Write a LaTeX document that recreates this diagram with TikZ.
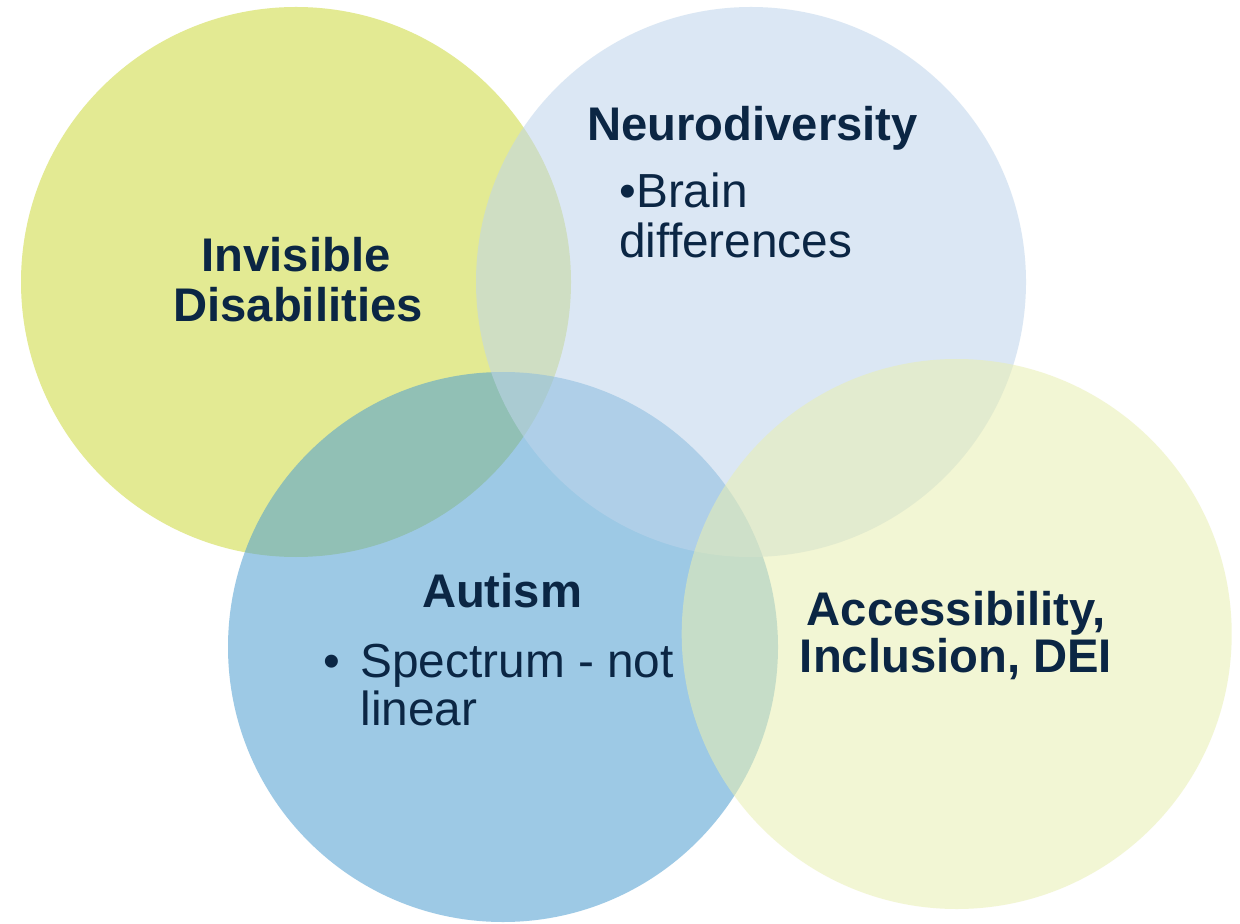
\documentclass[tikz,border=0pt]{standalone}
\usepackage{fontspec}
\setmainfont{Liberation Sans}
\definecolor{navy}{RGB}{11,38,68}
\definecolor{cyellow}{RGB}{227,234,147}
\definecolor{cneuro}{RGB}{191,213,235}
\definecolor{cautism}{RGB}{78,158,209}
\definecolor{caccess}{RGB}{233,239,177}
\tikzset{
  venn/.style={fill opacity=0.55, draw=none},
  head/.style={font=\fontsize{23.6}{25}\selectfont\bfseries, text=navy, inner sep=0pt},
  body/.style={font=\fontsize{23.9}{25}\selectfont, text=navy, inner sep=0pt},
}
\begin{document}
\begin{tikzpicture}[x=0.5pt,y=-0.5pt]
\useasboundingbox (0,0) rectangle (1240,924);
\fill[white] (0,0) rectangle (1240,924);
% circles
\fill[cyellow] (296,282) circle[radius=137.5pt];
\fill[cautism, venn] (503,647) circle[radius=137.5pt];
\fill[cneuro, venn] (751,282) circle[radius=137.5pt];
\fill[caccess, venn] (956.7,634) circle[radius=137.5pt];
% labels
\node[head, anchor=base] (inv1) at (296,272) {Invisible};
\node[head, anchor=base] (inv2) at (298,322) {Disabilities};
\node[head, anchor=base west] (neu) at (587,141) {Neurodiversity};
\node[body, anchor=base west] (neu1) at (619,208) {•Brain};
\node[body, anchor=base west] (neu2) at (619,258) {differences};
\node[head, anchor=base] (aut) at (502,607) {Autism};
\node[body, anchor=base] (autb) at (332,677) {•};
\node[body, anchor=base west] (aut1) at (360,677) {Spectrum - not};
\node[body, anchor=base west] (aut2) at (360,725) {linear};
\node[head, anchor=base] (acc1) at (956,625) {Accessibility,};
\node[head, anchor=base] (acc2) at (956,672) {Inclusion, DEI};
\end{tikzpicture}
\end{document}
